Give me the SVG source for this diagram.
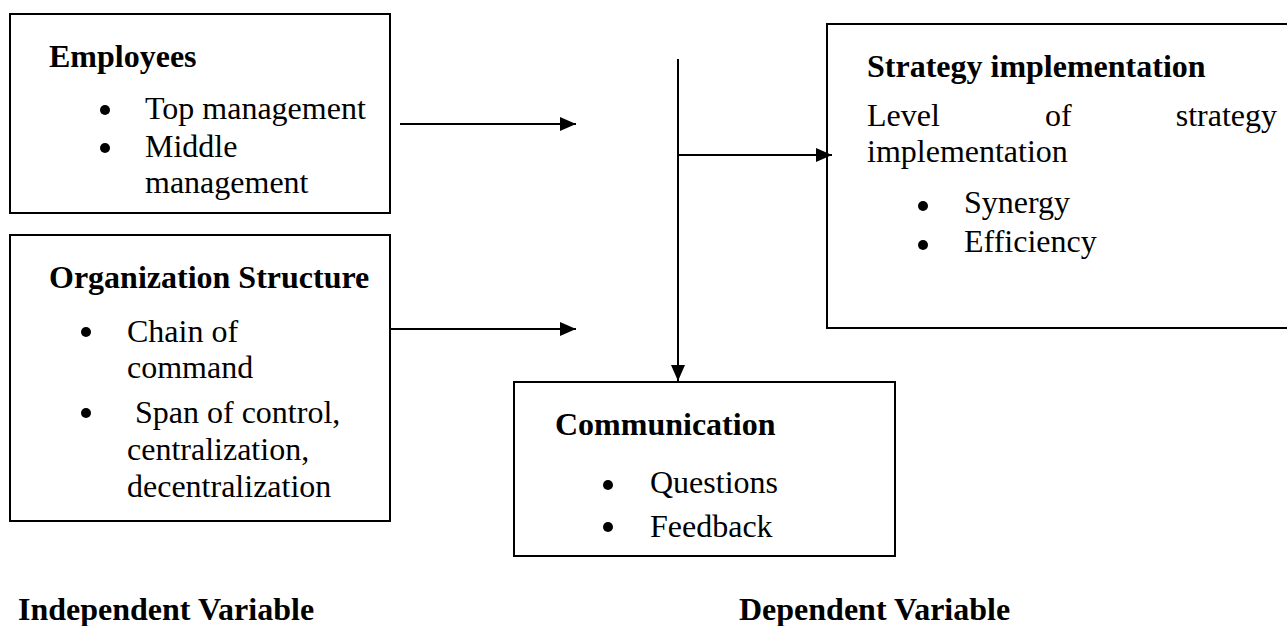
<svg xmlns="http://www.w3.org/2000/svg" width="1287" height="626" viewBox="0 0 1287 626">
<defs>
<style>
.box{fill:#fff;stroke:#000;stroke-width:2}
.t{font-family:"Liberation Serif","Times New Roman",serif;font-size:32px;fill:#000}
.b{font-weight:bold}
.con{stroke:#000;stroke-width:2;fill:none}
.dot{fill:#000}
</style>
<marker id="ah" viewBox="0 0 16 14" refX="16" refY="7" markerWidth="16" markerHeight="14" markerUnits="userSpaceOnUse" orient="auto">
<path d="M0,0 L16,7 L0,14 Z" fill="#000"/>
</marker>
</defs>
<rect width="1287" height="626" fill="#fff"/>
<g id="employees">
<rect class="box" x="10" y="14" width="380" height="199"/>
<text class="t b" x="49" y="67">Employees</text>
<circle class="dot" cx="105" cy="110" r="5"/>
<text class="t" x="145" y="119">Top management</text>
<circle class="dot" cx="105" cy="148" r="5"/>
<text class="t" x="145" y="157">Middle</text>
<text class="t" x="145" y="193">management</text>
</g>
<g id="organization">
<rect class="box" x="10" y="235" width="380" height="286"/>
<text class="t b" x="49" y="288">Organization Structure</text>
<circle class="dot" cx="86" cy="332" r="5"/>
<text class="t" x="127" y="342">Chain of</text>
<text class="t" x="127" y="378">command</text>
<circle class="dot" cx="86" cy="413" r="5"/>
<text class="t" x="135" y="423">Span of control,</text>
<text class="t" x="127" y="460">centralization,</text>
<text class="t" x="127" y="497">decentralization</text>
</g>
<g id="strategy">
<rect class="box" x="827" y="24" width="470" height="304"/>
<text class="t b" x="867" y="77">Strategy implementation</text>
<text class="t" x="867" y="126">Level</text>
<text class="t" x="1045" y="126">of</text>
<text class="t" x="1277" y="126" text-anchor="end">strategy</text>
<text class="t" x="867" y="162">implementation</text>
<circle class="dot" cx="923" cy="206" r="5"/>
<text class="t" x="964" y="213">Synergy</text>
<circle class="dot" cx="923" cy="245" r="5"/>
<text class="t" x="964" y="252">Efficiency</text>
</g>
<g id="communication">
<rect class="box" x="514" y="382" width="381" height="174"/>
<text class="t b" x="555" y="435">Communication</text>
<circle class="dot" cx="608" cy="485" r="5"/>
<text class="t" x="650" y="493">Questions</text>
<circle class="dot" cx="608" cy="527" r="5"/>
<text class="t" x="650" y="537">Feedback</text>
</g>
<g id="labels">
<text class="t b" x="18" y="620">Independent Variable</text>
<text class="t b" x="739" y="620">Dependent Variable</text>
</g>
<g id="connectors">
<line class="con" x1="400" y1="124" x2="576" y2="124" marker-end="url(#ah)"/>
<line class="con" x1="390" y1="329" x2="576" y2="329" marker-end="url(#ah)"/>
<line class="con" x1="678" y1="59" x2="678" y2="381" stroke-width="1.5" marker-end="url(#ah)"/>
<line class="con" x1="678" y1="155" x2="832" y2="155" marker-end="url(#ah)"/>
</g>
</svg>
